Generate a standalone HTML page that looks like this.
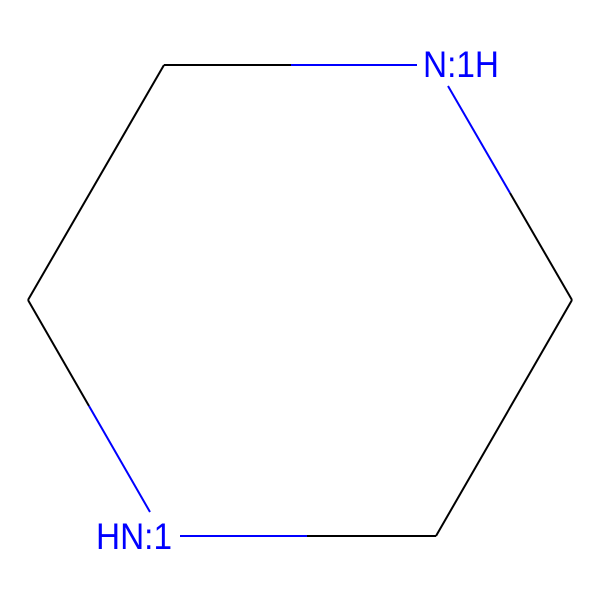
<!DOCTYPE html>
<html><head><meta charset="utf-8"><style>
html,body{margin:0;padding:0;background:#fff;}
svg{display:block;}
text{font-family:"Liberation Sans",sans-serif;font-size:37px;fill:#0000FF;}
</style></head><body>
<svg width="600" height="600" viewBox="0 0 600 600">
<rect width="600" height="600" fill="#fff"/>
<g stroke-width="2" fill="none">
<line x1="164" y1="65" x2="291" y2="65" stroke="#000"/>
<line x1="291" y1="65" x2="417" y2="65" stroke="#0000FF"/>
<line x1="448" y1="86" x2="510" y2="193" stroke="#0000FF"/>
<line x1="510" y1="193" x2="572" y2="300" stroke="#000"/>
<line x1="572" y1="300" x2="436" y2="536" stroke="#000"/>
<line x1="436" y1="536" x2="307" y2="536" stroke="#000"/>
<line x1="307" y1="536" x2="180" y2="536" stroke="#0000FF"/>
<line x1="150" y1="512" x2="89" y2="406" stroke="#0000FF"/>
<line x1="89" y1="406" x2="28" y2="300" stroke="#000"/>
<line x1="28" y1="300" x2="164" y2="65" stroke="#000"/>
</g>
<text x="423" y="77" textLength="76" lengthAdjust="spacingAndGlyphs">N:1H</text>
<text x="96" y="549" textLength="76" lengthAdjust="spacingAndGlyphs">HN:1</text>
</svg>
</body></html>
